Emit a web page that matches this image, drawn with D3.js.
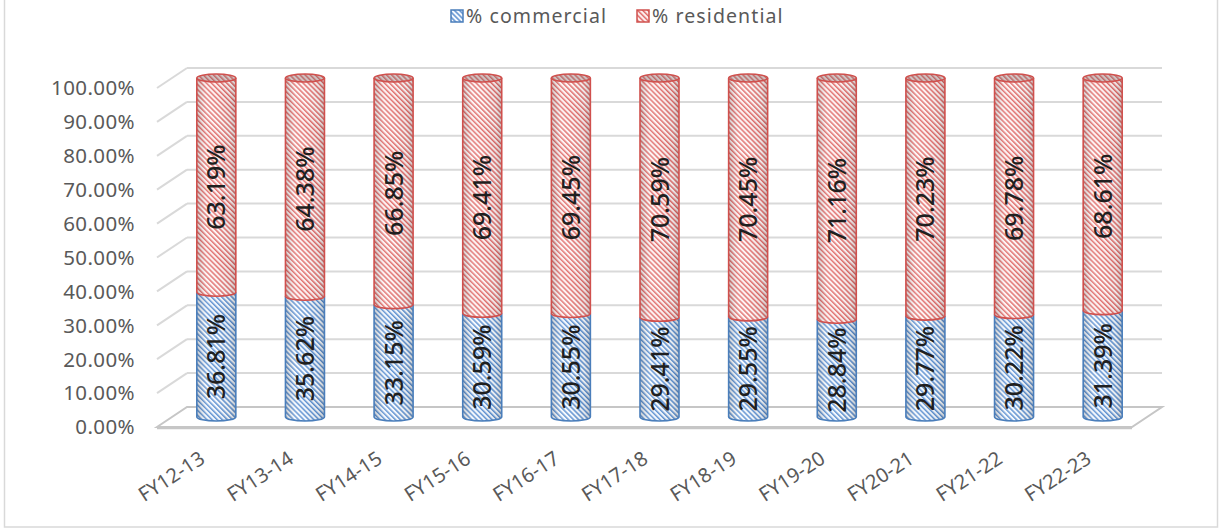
<!DOCTYPE html>
<html><head><meta charset="utf-8">
<script src="https://cdn.jsdelivr.net/npm/d3@7/dist/d3.min.js"></script>
<style>body{margin:0;background:#fff}svg{display:block}</style>
</head><body>
<svg id="c" width="1221" height="529"></svg>
<script>
const categories = ["FY12-13","FY13-14","FY14-15","FY15-16","FY16-17","FY17-18","FY18-19","FY19-20","FY20-21","FY21-22","FY22-23"];
const commercial = [36.81,35.62,33.15,30.59,30.55,29.41,29.55,28.84,29.77,30.22,31.39];
const residential = [63.19,64.38,66.85,69.41,69.45,70.59,70.45,71.16,70.23,69.78,68.61];
const yTicks = [0,10,20,30,40,50,60,70,80,90,100];
const seriesNames = ["% commercial","% residential"];

const svg = d3.select("#c");
const DX = 15, DY = 10; // depth offset from mid plane
const x = d3.scaleBand().domain(categories).range([172,1147]).paddingInner(0.56).paddingOuter(0.28);
const y = d3.scaleLinear().domain([0,100]).range([417,78]);

const defs = svg.append("defs");
function pat(id, stripe, bg){
  const p = defs.append("pattern").attr("id",id).attr("patternUnits","userSpaceOnUse")
    .attr("width",3.6).attr("height",3.6).attr("patternTransform","rotate(-45)");
  p.append("rect").attr("width",3.6).attr("height",3.6).attr("fill",bg);
  p.append("rect").attr("width",1.5).attr("height",3.6).attr("fill",stripe);
}
pat("pB","#5b8fd0","#f4f8fd");
pat("pR","#e06c6a","#fdf3f3");
const sh = defs.append("linearGradient").attr("id","shade").attr("x1",0).attr("x2",1).attr("y1",0).attr("y2",0);
[[0,"#000",0.18],[0.25,"#fff",0.12],[0.5,"#fff",0.05],[0.85,"#000",0.06],[1,"#000",0.2]].forEach(s=>
  sh.append("stop").attr("offset",s[0]).attr("stop-color",s[1]).attr("stop-opacity",s[2]));

// outer frame
svg.append("rect").attr("x",4.5).attr("y",-5).attr("width",1213).attr("height",532)
  .attr("fill","none").attr("stroke","#d9d9d9").attr("stroke-width",1.5);

const x0 = 172, x1 = 1147;
// gridlines
const g = svg.append("g");
yTicks.forEach(t=>{
  if(t===0) return;
  const yy = y(t);
  g.append("line").attr("x1",x0+DX).attr("x2",x1+DX).attr("y1",yy-DY).attr("y2",yy-DY)
    .attr("stroke","#d9d9d9").attr("stroke-width",2);
  g.append("line").attr("x1",x0-DX).attr("x2",x0+DX).attr("y1",yy+DY).attr("y2",yy-DY)
    .attr("stroke","#d9d9d9").attr("stroke-width",2);
});
// floor
const f0 = y(0);
g.append("path").attr("d",`M${x0-DX},${f0+DY}L${x0+DX},${f0-DY}L${x1+DX},${f0-DY}L${x1-DX},${f0+DY}Z`)
  .attr("fill","#fff").attr("stroke","#c6c6c6").attr("stroke-width",2);
g.append("line").attr("x1",x0-DX).attr("x2",x1-DX).attr("y1",f0+DY+1).attr("y2",f0+DY+1)
  .attr("stroke","#c6c6c6").attr("stroke-width",2.5);

// y labels
svg.append("g").selectAll("text").data(yTicks).join("text")
  .attr("x",135).attr("y",d=>y(d)+DY).attr("dy","0.36em").attr("text-anchor","end")
  .attr("font-family","Noto Sans, sans-serif").attr("font-size",20.5).attr("fill","#595959")
  .attr("letter-spacing",0.4)
  .text(d=>d.toFixed(2)+"%");

// bars
const RY = 4;
const bars = svg.append("g");
categories.forEach((c,i)=>{
  const bx = x(c), bw = x.bandwidth(), cx = bx+bw/2, rx = bw/2;
  const segs = [
    {v0:0, v1:commercial[i], fill:"url(#pB)", stroke:"#4a7ebb", label:commercial[i]},
    {v0:commercial[i], v1:commercial[i]+residential[i], fill:"url(#pR)", stroke:"#d0504d", label:residential[i]}
  ];
  segs.forEach((s,k)=>{
    const yb = y(s.v0), yt = y(s.v1);
    const d = `M${bx},${yt}L${bx},${yb}A${rx},${RY} 0 0 0 ${bx+bw},${yb}L${bx+bw},${yt}A${rx},${RY} 0 0 1 ${bx},${yt}Z`;
    bars.append("path").attr("d",d).attr("fill",s.fill);
    bars.append("path").attr("d",d).attr("fill","url(#shade)");
    bars.append("path").attr("d",`M${bx},${yt}L${bx},${yb}A${rx},${RY} 0 0 0 ${bx+bw},${yb}L${bx+bw},${yt}`)
      .attr("fill","none").attr("stroke",s.stroke).attr("stroke-width",1.6);
    if(k===1){
      bars.append("ellipse").attr("cx",cx).attr("cy",yt).attr("rx",rx).attr("ry",RY)
        .attr("fill",s.fill);
      bars.append("ellipse").attr("cx",cx).attr("cy",yt).attr("rx",rx).attr("ry",RY)
        .attr("fill","#7a6a6a").attr("fill-opacity",0.35).attr("stroke",s.stroke).attr("stroke-width",1.6);
    }
    const ym = (yb+yt)/2;
    bars.append("text").attr("transform",`translate(${cx},${ym+2}) rotate(-90)`)
      .attr("text-anchor","middle").attr("dy","0.36em")
      .attr("font-family","Noto Sans, sans-serif").attr("font-size",25).attr("font-weight",500).attr("fill","#1f1f1f")
      .text(s.label.toFixed(2)+"%");
  });
});

// x labels
svg.append("g").selectAll("text").data(categories).join("text")
  .attr("transform",d=>`translate(${x(d)+x.bandwidth()/2-14},${456}) rotate(-33)`)
  .attr("text-anchor","end").attr("dy","0.36em")
  .attr("font-family","Noto Sans, sans-serif").attr("font-size",20).attr("fill","#595959")
  .text(d=>d);

// legend
const leg = svg.append("g");
const lx = [451, 637];
seriesNames.forEach((n,i)=>{
  leg.append("rect").attr("x",lx[i]).attr("y",10).attr("width",12).attr("height",12)
    .attr("fill",i===0?"url(#pB)":"url(#pR)").attr("stroke",i===0?"#4a7ebb":"#d0504d").attr("stroke-width",1.5);
  leg.append("text").attr("x",lx[i]+15).attr("y",16).attr("dy","0.36em")
    .attr("font-family","Noto Sans, sans-serif").attr("font-size",19.5).attr("fill","#595959")
    .attr("letter-spacing",1.1).text(n);
});
</script>
</body></html>
